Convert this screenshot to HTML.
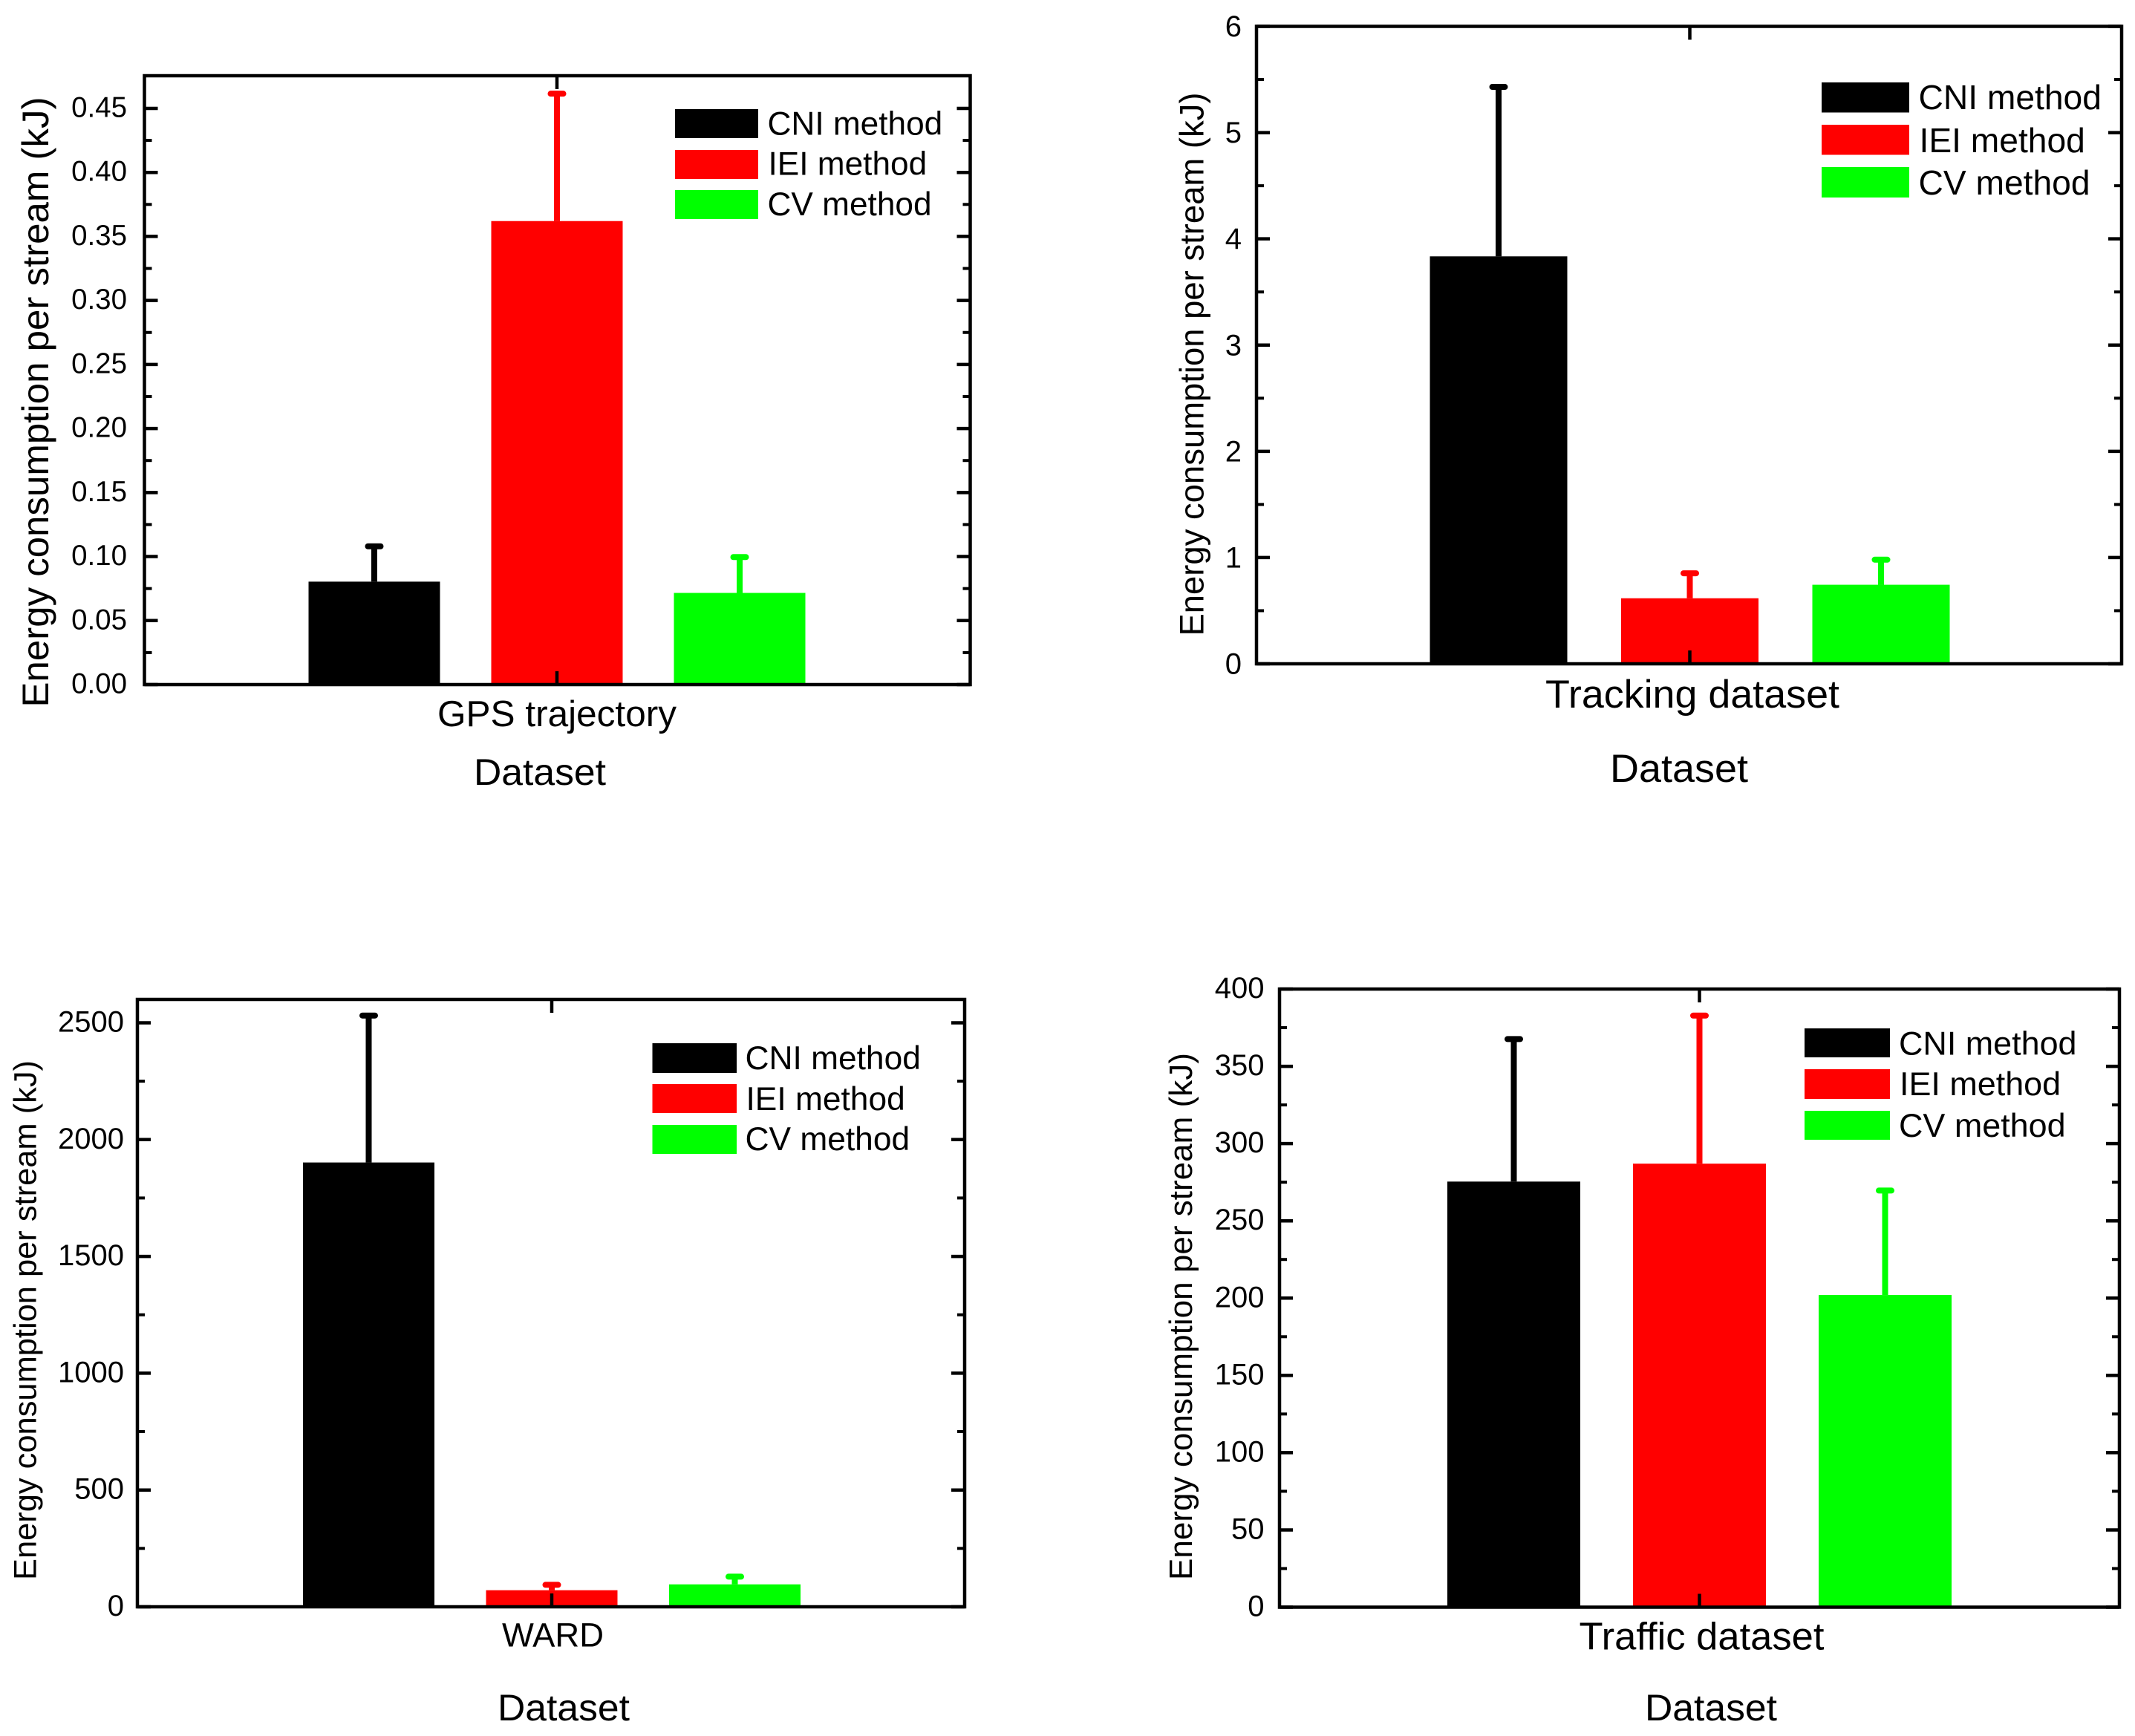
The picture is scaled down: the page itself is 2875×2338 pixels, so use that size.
<!DOCTYPE html>
<html lang="en">
<head>
<meta charset="utf-8">
<title>Energy consumption per stream by dataset</title>
<style>
html,body{margin:0;padding:0;background:#fff;}
svg{display:block;}
text{font-family:"Liberation Sans",Arial,sans-serif;fill:#000;}
</style>
</head>
<body>
<svg id="figure" width="2875" height="2338" viewBox="0 0 2875 2338" xmlns="http://www.w3.org/2000/svg">
  <rect width="2875" height="2338" fill="#fff"/>

  <g id="panel-gps">
    <g id="gps-marks"></g>
    <g id="gps-ticks"></g>
    <rect x="194.5" y="102" width="1112" height="820" fill="none" stroke="#000" stroke-width="4.5"/>
    <text transform="translate(65 541.5) rotate(-90)" text-anchor="middle" font-size="50" textLength="822" lengthAdjust="spacingAndGlyphs">Energy consumption per stream (kJ)</text>
    <text x="750" y="978" text-anchor="middle" font-size="49" textLength="322" lengthAdjust="spacingAndGlyphs">GPS trajectory</text>
    <text x="727" y="1057" text-anchor="middle" font-size="50" textLength="178" lengthAdjust="spacingAndGlyphs">Dataset</text>
    <g>
      <rect x="909" y="147" width="112" height="39" fill="#000"/>
      <rect x="909" y="202" width="112" height="39" fill="#f00"/>
      <rect x="909" y="256" width="112" height="39" fill="#0f0"/>
      <text x="1033.5" y="181.5" font-size="44.2">CNI method</text>
      <text x="1034.5" y="235.5" font-size="44.2">IEI method</text>
      <text x="1033.5" y="290" font-size="44.2">CV method</text>
    </g>
  </g>

  <g id="panel-tracking">
    <g id="tracking-marks"></g>
    <g id="tracking-ticks"></g>
    <rect x="1692" y="35.5" width="1165" height="858.5" fill="none" stroke="#000" stroke-width="4.5"/>
    <text transform="translate(1620.5 490.5) rotate(-90)" text-anchor="middle" font-size="45" textLength="732" lengthAdjust="spacingAndGlyphs">Energy consumption per stream (kJ)</text>
    <text x="2279" y="953" text-anchor="middle" font-size="53" textLength="396" lengthAdjust="spacingAndGlyphs">Tracking dataset</text>
    <text x="2261" y="1053" text-anchor="middle" font-size="53" textLength="186" lengthAdjust="spacingAndGlyphs">Dataset</text>
    <g>
      <rect x="2453" y="111" width="118" height="40.5" fill="#000"/>
      <rect x="2453" y="168" width="118" height="40.5" fill="#f00"/>
      <rect x="2453" y="225" width="118" height="41" fill="#0f0"/>
      <text x="2583.5" y="147" font-size="46.2">CNI method</text>
      <text x="2584.5" y="205" font-size="46.2">IEI method</text>
      <text x="2583.5" y="262" font-size="46.2">CV method</text>
    </g>
  </g>

  <g id="panel-ward">
    <g id="ward-marks"></g>
    <g id="ward-ticks"></g>
    <rect x="185" y="1346" width="1114" height="818" fill="none" stroke="#000" stroke-width="4.5"/>
    <text transform="translate(48.5 1778) rotate(-90)" text-anchor="middle" font-size="43" textLength="700" lengthAdjust="spacingAndGlyphs">Energy consumption per stream (kJ)</text>
    <text x="744.5" y="2217.5" text-anchor="middle" font-size="45" textLength="137" lengthAdjust="spacingAndGlyphs">WARD</text>
    <text x="759" y="2317" text-anchor="middle" font-size="50" textLength="178" lengthAdjust="spacingAndGlyphs">Dataset</text>
    <g>
      <rect x="878.5" y="1405" width="113.5" height="40" fill="#000"/>
      <rect x="878.5" y="1460" width="113.5" height="39" fill="#f00"/>
      <rect x="878.5" y="1515" width="113.5" height="39" fill="#0f0"/>
      <text x="1003.5" y="1440" font-size="44.3">CNI method</text>
      <text x="1004.5" y="1495" font-size="44.3">IEI method</text>
      <text x="1003.5" y="1549" font-size="44.3">CV method</text>
    </g>
  </g>

  <g id="panel-traffic">
    <g id="traffic-marks"></g>
    <g id="traffic-ticks"></g>
    <rect x="1723" y="1332" width="1131" height="832.5" fill="none" stroke="#000" stroke-width="4.5"/>
    <text transform="translate(1605 1773) rotate(-90)" text-anchor="middle" font-size="44" textLength="710" lengthAdjust="spacingAndGlyphs">Energy consumption per stream (kJ)</text>
    <text x="2291.5" y="2221.5" text-anchor="middle" font-size="52" textLength="330" lengthAdjust="spacingAndGlyphs">Traffic dataset</text>
    <text x="2304" y="2317" text-anchor="middle" font-size="50" textLength="178" lengthAdjust="spacingAndGlyphs">Dataset</text>
    <g>
      <rect x="2430" y="1385" width="115" height="39" fill="#000"/>
      <rect x="2430" y="1440" width="115" height="40" fill="#f00"/>
      <rect x="2430" y="1496" width="115" height="39" fill="#0f0"/>
      <text x="2557" y="1420.5" font-size="44.9">CNI method</text>
      <text x="2558" y="1475" font-size="44.9">IEI method</text>
      <text x="2557" y="1531" font-size="44.9">CV method</text>
    </g>
  </g>
</svg>

<script>
const methodKeys = ['cni', 'iei', 'cv'];
const methodColors = ['#000000', '#ff0000', '#00ff00'];

const gpsValues = [0.0804, 0.362, 0.0716];
const gpsErrors = [0.0276, 0.0995, 0.028];
const gpsTickLabels = ['0.00', '0.05', '0.10', '0.15', '0.20', '0.25', '0.30', '0.35', '0.40', '0.45'];

const trackingValues = [3.835, 0.617, 0.744];
const trackingErrors = [1.595, 0.235, 0.236];
const trackingTickLabels = ['0', '1', '2', '3', '4', '5', '6'];

const wardValues = [1902, 71, 96];
const wardErrors = [629, 23, 33];
const wardTickLabels = ['0', '500', '1000', '1500', '2000', '2500'];

const trafficValues = [275.4, 287, 202];
const trafficErrors = [92.2, 95.8, 67.6];
const trafficTickLabels = ['0', '50', '100', '150', '200', '250', '300', '350', '400'];

const SVG_NS = 'http://www.w3.org/2000/svg';

function drawPanel(id, values, errors, tickLabels, frame, yMax, barLayout, labelStyle) {
  const marks = document.getElementById(id + '-marks');
  const ticks = document.getElementById(id + '-ticks');

  const yScale = v => frame.bottom - (v / yMax) * (frame.bottom - frame.top);
  const xScale = i => barLayout.center + (i - 1) * barLayout.spacing;

  values.forEach((value, i) => {
    const cx = xScale(i);
    const top = yScale(value);
    const errTop = yScale(value + errors[i]);

    const stem = document.createElementNS(SVG_NS, 'rect');
    
    
    stem.setAttribute('x', cx - 4);
    stem.setAttribute('y', errTop);
    stem.setAttribute('width', 8);
    stem.setAttribute('height', Math.max(0, top - errTop));
    stem.setAttribute('fill', methodColors[i]);
    marks.appendChild(stem);

    const cap = document.createElementNS(SVG_NS, 'rect');
    
    
    cap.setAttribute('x', cx - 12.5);
    cap.setAttribute('y', errTop - 4);
    cap.setAttribute('width', 25);
    cap.setAttribute('height', 8);
    cap.setAttribute('rx', 4);
    cap.setAttribute('fill', methodColors[i]);
    marks.appendChild(cap);

    const bar = document.createElementNS(SVG_NS, 'rect');
    
    
    bar.setAttribute('x', cx - barLayout.width / 2);
    bar.setAttribute('y', top);
    bar.setAttribute('width', barLayout.width);
    bar.setAttribute('height', frame.bottom - top);
    bar.setAttribute('fill', methodColors[i]);
    marks.appendChild(bar);
  });

  function addTick(x1, y1, x2, y2, w) {
    const line = document.createElementNS(SVG_NS, 'line');
    
    
    line.setAttribute('x1', x1);
    line.setAttribute('y1', y1);
    line.setAttribute('x2', x2);
    line.setAttribute('y2', y2);
    line.setAttribute('stroke', '#000');
    line.setAttribute('stroke-width', w);
    ticks.appendChild(line);
  }

  tickLabels.forEach((label, i) => {
    const v = parseFloat(label);
    const y = yScale(v);
    addTick(frame.left, y, frame.left + 18, y, 4.5);
    addTick(frame.right, y, frame.right - 18, y, 4.5);

    const text = document.createElementNS(SVG_NS, 'text');
    
    
    text.setAttribute('x', labelStyle.right);
    text.setAttribute('y', y + labelStyle.dy);
    text.setAttribute('text-anchor', 'end');
    text.setAttribute('font-size', labelStyle.size);
    text.textContent = label;
    ticks.appendChild(text);

    if (i < tickLabels.length - 1) {
      const midY = yScale((v + parseFloat(tickLabels[i + 1])) / 2);
      addTick(frame.left, midY, frame.left + 10, midY, 4);
      addTick(frame.right, midY, frame.right - 10, midY, 4);
    }
  });

  const cx = barLayout.center;
  addTick(cx, frame.bottom, cx, frame.bottom - 18, 4.5);
  addTick(cx, frame.top, cx, frame.top + 18, 4.5);
}

drawPanel('gps', gpsValues, gpsErrors, gpsTickLabels,
  { left: 194.5, right: 1306.5, top: 102, bottom: 922 }, 0.4755,
  { center: 750, spacing: 246, width: 177 }, { right: 171, dy: 11.5, size: 38.5 });

drawPanel('tracking', trackingValues, trackingErrors, trackingTickLabels,
  { left: 1692, right: 2857, top: 35.5, bottom: 894 }, 6,
  { center: 2275.5, spacing: 257.5, width: 185 }, { right: 1672, dy: 13.5, size: 40 });

drawPanel('ward', wardValues, wardErrors, wardTickLabels,
  { left: 185, right: 1299, top: 1346, bottom: 2164 }, 2600,
  { center: 743, spacing: 246.5, width: 177 }, { right: 167, dy: 12, size: 40 });

drawPanel('traffic', trafficValues, trafficErrors, trafficTickLabels,
  { left: 1723, right: 2854, top: 1332, bottom: 2164.5 }, 400,
  { center: 2288.5, spacing: 250, width: 179 }, { right: 1702.5, dy: 12, size: 40 });
</script>
</body>
</html>
